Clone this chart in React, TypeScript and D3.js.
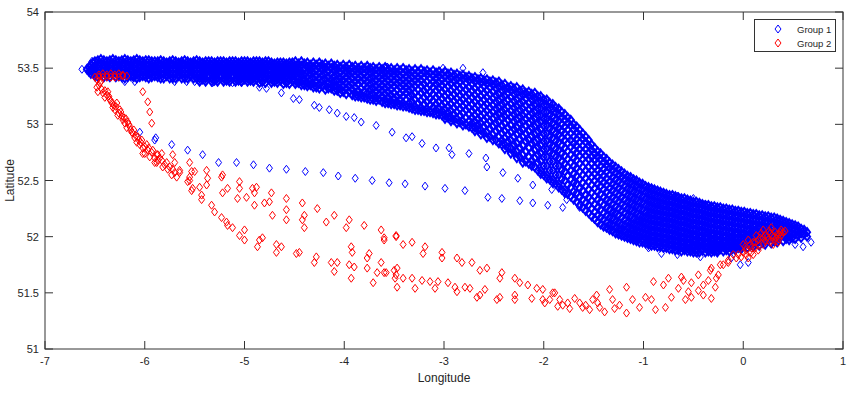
import React from 'react';
import * as d3 from 'd3';

// axis ticks
const lonTicks = [-7, -6, -5, -4, -3, -2, -1, 0, 1];
const latTicks = [51, 51.5, 52, 52.5, 53, 53.5, 54];

const groupNames = ['Group 1', 'Group 2'];
const groupColors = ['#0000ff', '#ff0000'];

// Group 1, main band, read column by column: [lon, ...lats]
const group1Band: number[][] = [
  [-6.58, 53.49],
  [-6.54, 53.53, 53.48, 53.45],
  [-6.5, 53.56, 53.52, 53.47, 53.43],
  [-6.44, 53.58, 53.54, 53.49, 53.45],
  [-6.38, 53.56, 53.52, 53.47, 53.43],
  [-6.32, 53.58, 53.54, 53.49, 53.45],
  [-6.26, 53.56, 53.52, 53.47, 53.43],
  [-6.2, 53.58, 53.54, 53.49, 53.45, 53.41],
  [-6.14, 53.56, 53.52, 53.47, 53.43],
  [-6.08, 53.58, 53.54, 53.49, 53.45, 53.41],
  [-6.02, 53.56, 53.52, 53.47, 53.43],
  [-5.96, 53.57, 53.53, 53.49, 53.45, 53.41],
  [-5.9, 53.56, 53.52, 53.47, 53.43],
  [-5.84, 53.57, 53.53, 53.49, 53.45, 53.41],
  [-5.78, 53.55, 53.51, 53.47, 53.43],
  [-5.72, 53.57, 53.53, 53.49, 53.45, 53.41],
  [-5.66, 53.55, 53.51, 53.47, 53.43],
  [-5.6, 53.57, 53.53, 53.49, 53.45, 53.41],
  [-5.54, 53.55, 53.51, 53.47, 53.43],
  [-5.48, 53.57, 53.53, 53.49, 53.45, 53.41],
  [-5.42, 53.55, 53.51, 53.47, 53.43, 53.4],
  [-5.36, 53.56, 53.52, 53.48, 53.44],
  [-5.3, 53.55, 53.51, 53.47, 53.43, 53.39],
  [-5.24, 53.56, 53.52, 53.48, 53.44],
  [-5.18, 53.55, 53.51, 53.47, 53.43, 53.39],
  [-5.12, 53.56, 53.52, 53.48, 53.44],
  [-5.06, 53.55, 53.51, 53.47, 53.43, 53.39],
  [-5.0, 53.56, 53.52, 53.48, 53.44, 53.4],
  [-4.94, 53.55, 53.51, 53.47, 53.43, 53.39],
  [-4.88, 53.56, 53.52, 53.48, 53.44, 53.4],
  [-4.82, 53.55, 53.51, 53.47, 53.43, 53.38],
  [-4.76, 53.56, 53.52, 53.48, 53.44, 53.4],
  [-4.7, 53.54, 53.5, 53.46, 53.42, 53.38],
  [-4.64, 53.55, 53.51, 53.47, 53.43, 53.39],
  [-4.58, 53.54, 53.5, 53.46, 53.42, 53.37],
  [-4.52, 53.55, 53.51, 53.47, 53.43, 53.39],
  [-4.46, 53.54, 53.5, 53.46, 53.41, 53.37],
  [-4.4, 53.54, 53.49, 53.44, 53.4, 53.35],
  [-4.34, 53.53, 53.49, 53.45, 53.4, 53.35],
  [-4.28, 53.53, 53.48, 53.43, 53.38, 53.33],
  [-4.22, 53.53, 53.49, 53.44, 53.39, 53.34],
  [-4.16, 53.52, 53.47, 53.42, 53.37, 53.32],
  [-4.1, 53.52, 53.48, 53.43, 53.38, 53.34, 53.3],
  [-4.04, 53.51, 53.46, 53.41, 53.37, 53.32, 53.28],
  [-3.98, 53.51, 53.47, 53.42, 53.37, 53.32, 53.27],
  [-3.92, 53.51, 53.46, 53.41, 53.36, 53.31, 53.26],
  [-3.86, 53.5, 53.46, 53.41, 53.36, 53.3, 53.25],
  [-3.8, 53.5, 53.45, 53.4, 53.35, 53.29, 53.24],
  [-3.74, 53.5, 53.46, 53.41, 53.36, 53.31, 53.26, 53.22],
  [-3.68, 53.49, 53.44, 53.39, 53.34, 53.29, 53.24, 53.21],
  [-3.62, 53.49, 53.45, 53.4, 53.35, 53.3, 53.25, 53.2],
  [-3.56, 53.49, 53.44, 53.39, 53.34, 53.29, 53.24, 53.19],
  [-3.5, 53.48, 53.44, 53.39, 53.34, 53.28, 53.23, 53.18],
  [-3.44, 53.48, 53.43, 53.38, 53.33, 53.27, 53.22, 53.17],
  [-3.38, 53.48, 53.43, 53.38, 53.33, 53.28, 53.22, 53.16],
  [-3.32, 53.47, 53.42, 53.37, 53.32, 53.26, 53.2, 53.14],
  [-3.26, 53.47, 53.42, 53.37, 53.31, 53.25, 53.19, 53.13],
  [-3.2, 53.47, 53.42, 53.36, 53.3, 53.24, 53.18, 53.12],
  [-3.14, 53.46, 53.41, 53.35, 53.29, 53.23, 53.17, 53.11],
  [-3.08, 53.46, 53.41, 53.36, 53.3, 53.24, 53.18, 53.13, 53.09],
  [-3.02, 53.45, 53.4, 53.35, 53.29, 53.23, 53.17, 53.12, 53.08],
  [-2.96, 53.45, 53.4, 53.34, 53.28, 53.22, 53.16, 53.11, 53.06],
  [-2.9, 53.44, 53.39, 53.33, 53.27, 53.21, 53.15, 53.09, 53.04],
  [-2.84, 53.43, 53.38, 53.32, 53.26, 53.2, 53.14, 53.08, 53.02],
  [-2.78, 53.42, 53.37, 53.31, 53.25, 53.19, 53.13, 53.06, 53.0],
  [-2.72, 53.41, 53.36, 53.3, 53.24, 53.18, 53.12, 53.06, 53.01, 52.97],
  [-2.66, 53.4, 53.35, 53.29, 53.23, 53.17, 53.11, 53.05, 53.0, 52.95],
  [-2.6, 53.39, 53.34, 53.28, 53.22, 53.16, 53.1, 53.04, 52.98, 52.92],
  [-2.54, 53.38, 53.33, 53.27, 53.21, 53.15, 53.09, 53.03, 52.96, 52.89],
  [-2.48, 53.37, 53.32, 53.26, 53.2, 53.14, 53.08, 53.01, 52.94, 52.86],
  [-2.42, 53.35, 53.3, 53.24, 53.18, 53.12, 53.06, 52.99, 52.92, 52.86, 52.82],
  [-2.36, 53.33, 53.28, 53.22, 53.16, 53.1, 53.04, 52.97, 52.91, 52.85, 52.79],
  [-2.3, 53.32, 53.27, 53.21, 53.15, 53.09, 53.03, 52.96, 52.89, 52.82, 52.75],
  [-2.24, 53.3, 53.25, 53.19, 53.13, 53.07, 53.01, 52.94, 52.87, 52.79, 52.71],
  [-2.18, 53.28, 53.23, 53.17, 53.11, 53.05, 52.99, 52.92, 52.85, 52.76, 52.67],
  [-2.12, 53.27, 53.22, 53.16, 53.1, 53.04, 52.97, 52.9, 52.83, 52.75, 52.68, 52.63],
  [-2.06, 53.25, 53.2, 53.14, 53.08, 53.01, 52.94, 52.87, 52.8, 52.73, 52.66, 52.59],
  [-2.0, 53.22, 53.17, 53.11, 53.05, 52.99, 52.92, 52.85, 52.78, 52.71, 52.63, 52.55],
  [-1.94, 53.19, 53.14, 53.08, 53.02, 52.96, 52.89, 52.82, 52.75, 52.67, 52.59, 52.51],
  [-1.88, 53.15, 53.1, 53.04, 52.98, 52.92, 52.85, 52.78, 52.71, 52.63, 52.55, 52.47],
  [-1.82, 53.11, 53.06, 53.0, 52.94, 52.88, 52.81, 52.74, 52.67, 52.59, 52.51, 52.42],
  [-1.76, 53.06, 53.01, 52.95, 52.89, 52.83, 52.76, 52.69, 52.62, 52.54, 52.46, 52.38],
  [-1.7, 53.0, 52.95, 52.89, 52.83, 52.77, 52.7, 52.63, 52.56, 52.48, 52.4, 52.33],
  [-1.64, 52.95, 52.9, 52.84, 52.78, 52.72, 52.65, 52.58, 52.51, 52.43, 52.35, 52.28],
  [-1.58, 52.89, 52.84, 52.78, 52.72, 52.66, 52.59, 52.52, 52.45, 52.37, 52.3, 52.23],
  [-1.52, 52.82, 52.77, 52.71, 52.65, 52.59, 52.53, 52.46, 52.39, 52.32, 52.25, 52.18],
  [-1.46, 52.76, 52.71, 52.65, 52.59, 52.53, 52.47, 52.4, 52.33, 52.26, 52.19, 52.13],
  [-1.4, 52.71, 52.66, 52.6, 52.54, 52.48, 52.42, 52.35, 52.28, 52.21, 52.15, 52.09],
  [-1.34, 52.66, 52.61, 52.55, 52.49, 52.43, 52.37, 52.31, 52.24, 52.17, 52.11, 52.06],
  [-1.28, 52.62, 52.57, 52.51, 52.45, 52.39, 52.33, 52.27, 52.21, 52.14, 52.08, 52.03],
  [-1.22, 52.58, 52.53, 52.47, 52.41, 52.35, 52.29, 52.23, 52.17, 52.11, 52.06, 52.01],
  [-1.16, 52.54, 52.49, 52.43, 52.37, 52.31, 52.25, 52.19, 52.13, 52.08, 52.03, 51.99],
  [-1.1, 52.51, 52.46, 52.4, 52.34, 52.28, 52.22, 52.16, 52.11, 52.06, 52.01, 51.97],
  [-1.04, 52.48, 52.43, 52.37, 52.31, 52.25, 52.19, 52.14, 52.09, 52.04, 51.99, 51.95],
  [-0.98, 52.45, 52.4, 52.34, 52.28, 52.22, 52.17, 52.12, 52.07, 52.02, 51.98, 51.94],
  [-0.92, 52.43, 52.38, 52.32, 52.26, 52.2, 52.15, 52.1, 52.05, 52.0, 51.96, 51.92],
  [-0.86, 52.41, 52.36, 52.3, 52.24, 52.19, 52.14, 52.09, 52.04, 51.99, 51.95, 51.91],
  [-0.8, 52.39, 52.34, 52.28, 52.23, 52.18, 52.13, 52.08, 52.03, 51.98, 51.94, 51.9],
  [-0.74, 52.37, 52.32, 52.27, 52.22, 52.17, 52.12, 52.07, 52.02, 51.97, 51.93, 51.89],
  [-0.68, 52.36, 52.31, 52.26, 52.21, 52.16, 52.11, 52.06, 52.01, 51.96, 51.92, 51.88],
  [-0.62, 52.34, 52.29, 52.24, 52.19, 52.14, 52.09, 52.04, 51.99, 51.95, 51.91, 51.87],
  [-0.56, 52.33, 52.28, 52.23, 52.18, 52.13, 52.08, 52.03, 51.98, 51.94, 51.9, 51.87],
  [-0.5, 52.31, 52.26, 52.21, 52.16, 52.11, 52.06, 52.01, 51.96, 51.92, 51.89, 51.86],
  [-0.44, 52.3, 52.25, 52.2, 52.15, 52.1, 52.05, 52.0, 51.95, 51.91, 51.86],
  [-0.38, 52.28, 52.24, 52.19, 52.14, 52.09, 52.04, 51.99, 51.94, 51.9, 51.86],
  [-0.32, 52.27, 52.22, 52.17, 52.12, 52.07, 52.02, 51.97, 51.93, 51.89, 51.86],
  [-0.26, 52.26, 52.21, 52.16, 52.11, 52.06, 52.01, 51.96, 51.92, 51.88, 51.86],
  [-0.2, 52.25, 52.2, 52.15, 52.1, 52.05, 52.0, 51.95, 51.91, 51.87],
  [-0.14, 52.24, 52.19, 52.14, 52.09, 52.04, 51.99, 51.95, 51.91, 51.87],
  [-0.08, 52.23, 52.18, 52.13, 52.08, 52.03, 51.98, 51.94, 51.91, 51.88],
  [-0.02, 52.22, 52.17, 52.12, 52.07, 52.02, 51.98, 51.94, 51.91, 51.89],
  [0.04, 52.21, 52.16, 52.11, 52.06, 52.01, 51.97, 51.94, 51.9],
  [0.1, 52.2, 52.15, 52.1, 52.05, 52.01, 51.97, 51.94, 51.91],
  [0.16, 52.19, 52.14, 52.09, 52.04, 52.0, 51.96, 51.92],
  [0.22, 52.18, 52.13, 52.08, 52.04, 52.0, 51.96, 51.93],
  [0.28, 52.17, 52.12, 52.08, 52.03, 51.99, 51.94],
  [0.34, 52.16, 52.11, 52.06, 52.02, 51.98, 51.95],
  [0.4, 52.14, 52.1, 52.05, 52.01, 51.96],
  [0.46, 52.12, 52.08, 52.04, 52.0, 51.97],
  [0.52, 52.1, 52.06, 52.02, 51.98],
  [0.58, 52.07, 52.03, 51.99],
  [0.64, 52.04, 52.0],
];

// Group 1, second pass of band columns, sitting between the ones above
const group1BandFill: number[][] = [
  [-6.56, 53.51, 53.47],
  [-6.52, 53.55, 53.5, 53.46],
  [-6.47, 53.57, 53.53, 53.5, 53.46, 53.42],
  [-6.41, 53.57, 53.53, 53.5, 53.46, 53.42],
  [-6.35, 53.57, 53.53, 53.5, 53.46, 53.42],
  [-6.29, 53.57, 53.53, 53.5, 53.46, 53.42],
  [-6.23, 53.57, 53.53, 53.5, 53.46, 53.42],
  [-6.17, 53.57, 53.53, 53.5, 53.46, 53.42],
  [-6.11, 53.57, 53.53, 53.5, 53.46, 53.42],
  [-6.05, 53.57, 53.53, 53.5, 53.46, 53.42],
  [-5.99, 53.57, 53.53, 53.5, 53.46, 53.42],
  [-5.93, 53.56, 53.53, 53.5, 53.46, 53.42],
  [-5.87, 53.56, 53.53, 53.5, 53.46, 53.42],
  [-5.81, 53.56, 53.53, 53.49, 53.45, 53.41],
  [-5.75, 53.56, 53.53, 53.49, 53.45, 53.41],
  [-5.69, 53.56, 53.53, 53.49, 53.45, 53.41],
  [-5.63, 53.56, 53.53, 53.49, 53.45, 53.41],
  [-5.57, 53.56, 53.53, 53.49, 53.45, 53.41],
  [-5.51, 53.56, 53.53, 53.49, 53.45, 53.41],
  [-5.45, 53.56, 53.53, 53.49, 53.45, 53.41, 53.38],
  [-5.39, 53.56, 53.53, 53.49, 53.45, 53.41, 53.38],
  [-5.33, 53.56, 53.53, 53.49, 53.45, 53.41, 53.38],
  [-5.27, 53.56, 53.53, 53.49, 53.45, 53.41, 53.38],
  [-5.21, 53.56, 53.53, 53.49, 53.45, 53.41, 53.38],
  [-5.15, 53.56, 53.53, 53.49, 53.45, 53.41, 53.38],
  [-5.09, 53.56, 53.53, 53.49, 53.45, 53.41, 53.38],
  [-5.03, 53.56, 53.53, 53.49, 53.45, 53.41, 53.38],
  [-4.97, 53.56, 53.53, 53.49, 53.45, 53.41, 53.38],
  [-4.91, 53.56, 53.53, 53.49, 53.45, 53.41, 53.38],
  [-4.85, 53.56, 53.53, 53.49, 53.45, 53.41, 53.37],
  [-4.79, 53.56, 53.53, 53.49, 53.45, 53.41, 53.37],
  [-4.73, 53.55, 53.52, 53.48, 53.44, 53.4, 53.37],
  [-4.67, 53.55, 53.52, 53.48, 53.44, 53.4, 53.37],
  [-4.61, 53.55, 53.52, 53.48, 53.44, 53.4, 53.36],
  [-4.55, 53.55, 53.52, 53.48, 53.44, 53.4, 53.36],
  [-4.49, 53.56, 53.52, 53.48, 53.44, 53.39, 53.36],
  [-4.43, 53.56, 53.52, 53.47, 53.43, 53.38, 53.35],
  [-4.37, 53.55, 53.51, 53.47, 53.42, 53.37, 53.34],
  [-4.31, 53.55, 53.51, 53.46, 53.41, 53.36, 53.33],
  [-4.25, 53.55, 53.51, 53.46, 53.41, 53.36, 53.32],
  [-4.19, 53.54, 53.5, 53.45, 53.4, 53.35, 53.31],
  [-4.13, 53.54, 53.5, 53.45, 53.4, 53.36, 53.32],
  [-4.07, 53.53, 53.49, 53.44, 53.39, 53.34, 53.3],
  [-4.01, 53.53, 53.49, 53.44, 53.39, 53.34, 53.29],
  [-3.95, 53.53, 53.48, 53.44, 53.39, 53.34, 53.29],
  [-3.89, 53.52, 53.48, 53.43, 53.38, 53.33, 53.28, 53.25],
  [-3.83, 53.52, 53.48, 53.43, 53.38, 53.32, 53.27, 53.24],
  [-3.77, 53.52, 53.48, 53.43, 53.38, 53.33, 53.28, 53.23],
  [-3.71, 53.51, 53.47, 53.42, 53.37, 53.32, 53.27, 53.22],
  [-3.65, 53.51, 53.47, 53.42, 53.37, 53.32, 53.27, 53.22],
  [-3.59, 53.51, 53.46, 53.42, 53.37, 53.32, 53.27, 53.22, 53.19],
  [-3.53, 53.5, 53.46, 53.41, 53.36, 53.31, 53.26, 53.21, 53.18],
  [-3.47, 53.5, 53.46, 53.41, 53.36, 53.31, 53.25, 53.2, 53.17],
  [-3.41, 53.5, 53.45, 53.4, 53.35, 53.3, 53.25, 53.19, 53.16],
  [-3.35, 53.49, 53.45, 53.4, 53.35, 53.3, 53.25, 53.19, 53.15],
  [-3.29, 53.49, 53.44, 53.39, 53.34, 53.28, 53.22, 53.16, 53.13],
  [-3.23, 53.49, 53.44, 53.39, 53.34, 53.28, 53.21, 53.15, 53.12],
  [-3.17, 53.48, 53.44, 53.38, 53.32, 53.26, 53.2, 53.14, 53.11],
  [-3.11, 53.48, 53.43, 53.38, 53.33, 53.27, 53.21, 53.15, 53.1],
  [-3.05, 53.47, 53.43, 53.37, 53.32, 53.26, 53.2, 53.14, 53.09],
  [-2.99, 53.47, 53.42, 53.37, 53.31, 53.25, 53.19, 53.13, 53.08, 53.05],
  [-2.93, 53.46, 53.41, 53.36, 53.3, 53.24, 53.18, 53.12, 53.06, 53.03],
  [-2.87, 53.45, 53.4, 53.35, 53.29, 53.23, 53.17, 53.11, 53.05, 53.01],
  [-2.81, 53.44, 53.4, 53.34, 53.28, 53.22, 53.16, 53.1, 53.03, 52.99],
  [-2.75, 53.43, 53.39, 53.33, 53.27, 53.21, 53.15, 53.09, 53.03, 52.98],
  [-2.69, 53.42, 53.38, 53.32, 53.26, 53.2, 53.14, 53.08, 53.02, 52.97, 52.94],
  [-2.63, 53.41, 53.37, 53.31, 53.25, 53.19, 53.13, 53.07, 53.01, 52.95, 52.91],
  [-2.57, 53.4, 53.36, 53.3, 53.24, 53.18, 53.12, 53.06, 53.0, 52.93, 52.88],
  [-2.51, 53.39, 53.35, 53.29, 53.23, 53.17, 53.11, 53.05, 52.98, 52.91, 52.86],
  [-2.45, 53.38, 53.33, 53.27, 53.21, 53.15, 53.09, 53.02, 52.96, 52.89, 52.83],
  [-2.39, 53.36, 53.31, 53.25, 53.19, 53.13, 53.07, 53.01, 52.94, 52.88, 52.82, 52.78],
  [-2.33, 53.34, 53.3, 53.24, 53.18, 53.12, 53.06, 52.99, 52.93, 52.86, 52.79, 52.74],
  [-2.27, 53.33, 53.28, 53.22, 53.16, 53.1, 53.04, 52.97, 52.91, 52.83, 52.76, 52.7],
  [-2.21, 53.31, 53.26, 53.2, 53.14, 53.08, 53.02, 52.95, 52.89, 52.81, 52.73, 52.66],
  [-2.15, 53.29, 53.25, 53.19, 53.13, 53.07, 53.01, 52.94, 52.86, 52.79, 52.71, 52.65],
  [-2.09, 53.28, 53.23, 53.17, 53.11, 53.05, 52.98, 52.91, 52.84, 52.77, 52.7, 52.62],
  [-2.03, 53.25, 53.2, 53.14, 53.08, 53.02, 52.95, 52.88, 52.81, 52.74, 52.67, 52.59, 52.56],
  [-1.97, 53.22, 53.17, 53.11, 53.05, 52.99, 52.92, 52.85, 52.78, 52.71, 52.63, 52.55, 52.52],
  [-1.91, 53.18, 53.14, 53.07, 53.01, 52.95, 52.88, 52.81, 52.74, 52.67, 52.59, 52.51, 52.48],
  [-1.85, 53.14, 53.09, 53.03, 52.97, 52.91, 52.84, 52.77, 52.7, 52.63, 52.55, 52.47, 52.44],
  [-1.79, 53.09, 53.04, 52.98, 52.92, 52.86, 52.79, 52.72, 52.65, 52.58, 52.5, 52.42, 52.39],
  [-1.73, 53.04, 52.99, 52.92, 52.86, 52.8, 52.73, 52.66, 52.59, 52.51, 52.44, 52.36],
  [-1.67, 52.98, 52.93, 52.87, 52.81, 52.75, 52.68, 52.61, 52.54, 52.47, 52.39, 52.31],
  [-1.61, 52.92, 52.87, 52.81, 52.75, 52.69, 52.62, 52.55, 52.48, 52.41, 52.33, 52.26],
  [-1.55, 52.86, 52.81, 52.75, 52.69, 52.62, 52.56, 52.49, 52.42, 52.35, 52.28, 52.21],
  [-1.49, 52.79, 52.74, 52.68, 52.62, 52.56, 52.5, 52.43, 52.36, 52.29, 52.22, 52.16],
  [-1.43, 52.74, 52.69, 52.63, 52.57, 52.51, 52.45, 52.38, 52.31, 52.24, 52.17, 52.11],
  [-1.37, 52.69, 52.64, 52.58, 52.52, 52.46, 52.4, 52.33, 52.26, 52.19, 52.13, 52.08],
  [-1.31, 52.64, 52.59, 52.53, 52.47, 52.41, 52.35, 52.29, 52.22, 52.16, 52.1, 52.05],
  [-1.25, 52.6, 52.55, 52.49, 52.43, 52.37, 52.31, 52.25, 52.19, 52.13, 52.07, 52.02],
  [-1.19, 52.56, 52.51, 52.45, 52.39, 52.33, 52.27, 52.21, 52.15, 52.1, 52.05, 52.0],
  [-1.13, 52.53, 52.48, 52.42, 52.36, 52.3, 52.24, 52.18, 52.12, 52.07, 52.02, 51.98],
  [-1.07, 52.5, 52.45, 52.39, 52.33, 52.27, 52.21, 52.15, 52.1, 52.05, 52.0, 51.96],
  [-1.01, 52.47, 52.42, 52.36, 52.3, 52.24, 52.18, 52.13, 52.08, 52.03, 51.98, 51.95],
  [-0.95, 52.44, 52.39, 52.33, 52.27, 52.21, 52.16, 52.11, 52.06, 52.01, 51.97, 51.93],
  [-0.89, 52.42, 52.37, 52.31, 52.25, 52.2, 52.15, 52.1, 52.05, 52.0, 51.96, 51.92],
  [-0.83, 52.4, 52.35, 52.29, 52.24, 52.19, 52.14, 52.09, 52.04, 51.99, 51.95, 51.91],
  [-0.77, 52.38, 52.33, 52.28, 52.23, 52.18, 52.13, 52.08, 52.03, 51.98, 51.94, 51.9],
  [-0.71, 52.37, 52.32, 52.27, 52.22, 52.17, 52.12, 52.07, 52.02, 51.97, 51.93, 51.89],
  [-0.65, 52.35, 52.3, 52.25, 52.2, 52.15, 52.1, 52.05, 52.0, 51.96, 51.92, 51.88],
  [-0.59, 52.34, 52.29, 52.24, 52.19, 52.14, 52.09, 52.04, 51.99, 51.95, 51.91, 51.88],
  [-0.53, 52.32, 52.27, 52.22, 52.17, 52.12, 52.07, 52.02, 51.98, 51.94, 51.9, 51.87],
  [-0.47, 52.31, 52.26, 52.21, 52.16, 52.11, 52.06, 52.01, 51.97, 51.93, 51.89, 51.86],
  [-0.41, 52.29, 52.25, 52.2, 52.15, 52.1, 52.05, 52.0, 51.96, 51.92, 51.88],
  [-0.35, 52.28, 52.23, 52.18, 52.13, 52.08, 52.03, 51.99, 51.95, 51.91, 51.87],
  [-0.29, 52.27, 52.22, 52.17, 52.12, 52.07, 52.02, 51.98, 51.94, 51.9, 51.87],
  [-0.23, 52.26, 52.21, 52.16, 52.11, 52.06, 52.01, 51.97, 51.93, 51.89],
  [-0.17, 52.25, 52.2, 52.15, 52.1, 52.05, 52.0, 51.96, 51.92, 51.88],
  [-0.11, 52.24, 52.19, 52.14, 52.09, 52.04, 52.0, 51.96, 51.92, 51.89],
  [-0.05, 52.23, 52.18, 52.13, 52.08, 52.03, 51.99, 51.95, 51.92, 51.9],
  [0.01, 52.22, 52.17, 52.12, 52.07, 52.03, 51.99, 51.95, 51.92],
  [0.07, 52.21, 52.16, 52.11, 52.07, 52.03, 51.99, 51.96, 51.92],
  [0.13, 52.2, 52.15, 52.1, 52.06, 52.02, 51.98, 51.94],
  [0.19, 52.19, 52.14, 52.1, 52.06, 52.02, 51.98, 51.95],
  [0.25, 52.18, 52.13, 52.09, 52.05, 52.01, 51.97],
  [0.31, 52.17, 52.12, 52.08, 52.04, 52.0, 51.96],
  [0.37, 52.15, 52.11, 52.07, 52.03, 51.99],
  [0.43, 52.13, 52.09, 52.05, 52.01, 51.98],
  [0.49, 52.11, 52.07, 52.03, 51.99],
  [0.55, 52.09, 52.05, 52.01],
  [0.61, 52.06, 52.02],
];

// Group 1, loose points around the band
const group1Loose: [number, number][] = [
  [-6.63, 53.49], [-6.53, 53.56],
  [-6.2, 53.38], [-6.1, 53.38], [-6.12, 53.42], [-5.7, 53.38], [-5.58, 53.38], [-5.5, 53.38],
  [-5.32, 53.37], [-5.12, 53.37], [-5.03, 53.37], [-4.85, 53.33], [-4.78, 53.32],
  [-4.63, 53.28], [-4.51, 53.23], [-4.45, 53.22], [-4.3, 53.17], [-4.25, 53.15],
  [-4.15, 53.13], [-4.07, 53.1], [-3.98, 53.07], [-3.9, 53.06], [-3.83, 53.02],
  [-3.68, 52.99], [-3.52, 52.93], [-3.38, 52.88], [-3.32, 52.89], [-3.22, 52.83],
  [-3.08, 52.79], [-2.95, 52.79], [-2.92, 52.73], [-2.75, 52.74], [-2.58, 52.7],
  [-3.77, 53.51], [-3.57, 53.51], [-3.01, 53.5], [-2.81, 53.5], [-2.61, 53.46],
  [-2.47, 53.37], [-2.36, 53.32], [-2.21, 53.29], [-2.11, 53.2], [-1.94, 53.04],
  [-1.82, 52.93], [-1.72, 52.84], [-1.64, 52.77], [-1.49, 52.7], [-1.36, 52.62],
  [-1.24, 52.55], [-1.12, 52.49], [-0.66, 52.36], [-0.5, 52.34], [-0.38, 52.29],
  [-0.28, 52.23], [0.35, 52.14], [0.45, 52.1],
  [-2.57, 52.62], [-2.41, 52.57], [-2.26, 52.52], [-2.11, 52.46], [-1.92, 52.42],
  [-1.77, 52.33], [-1.64, 52.26], [-1.49, 52.15], [-1.34, 52.09],
  [-0.95, 51.9], [-0.82, 51.85], [-0.66, 51.84], [-0.43, 51.82],
  [0.58, 52.03], [0.68, 51.95], [0.6, 51.91], [0.52, 51.93],
  [-0.03, 51.75], [-0.12, 51.81], [0.05, 51.77],
  [-6.05, 52.93], [-5.9, 52.86], [-5.89, 52.88], [-5.73, 52.82], [-5.57, 52.77],
  [-5.42, 52.73], [-5.26, 52.66], [-5.08, 52.66], [-4.91, 52.64], [-4.75, 52.61],
  [-4.58, 52.6], [-4.39, 52.58], [-4.21, 52.57], [-4.06, 52.54], [-3.89, 52.52],
  [-3.72, 52.5], [-3.55, 52.48], [-3.39, 52.47], [-3.19, 52.45], [-2.99, 52.43],
  [-2.79, 52.41], [-2.56, 52.35], [-2.42, 52.34], [-2.24, 52.32], [-2.11, 52.3],
  [-1.96, 52.28], [-1.81, 52.26],
];

// Group 2, pile at the start of the track: [lon, ...lats]
const group2Start: number[][] = [
  [-6.5, 53.42], [-6.46, 53.44, 53.42], [-6.42, 53.45, 53.42], [-6.38, 53.44, 53.42],
  [-6.34, 53.45, 53.42], [-6.3, 53.44, 53.42], [-6.26, 53.45, 53.42],
  [-6.22, 53.44, 53.43], [-6.18, 53.43],
];

// Group 2, track points
const group2Track: [number, number][] = [
  [-6.48, 53.4], [-6.44, 53.38], [-6.48, 53.33], [-6.45, 53.37], [-6.47, 53.29],
  [-6.42, 53.28], [-6.4, 53.24], [-6.37, 53.29], [-6.35, 53.22], [-6.33, 53.19],
  [-6.32, 53.15], [-6.28, 53.19], [-6.3, 53.13], [-6.25, 53.13], [-6.27, 53.08],
  [-6.23, 53.07], [-6.22, 53.04], [-6.2, 53.01], [-6.17, 53.02], [-6.18, 52.97],
  [-6.15, 52.98], [-6.13, 52.93], [-6.12, 52.92], [-6.1, 52.88], [-6.07, 52.89],
  [-6.08, 52.84], [-6.03, 52.86], [-6.05, 52.82], [-6.02, 52.79], [-5.98, 52.82],
  [-5.97, 52.77], [-6.0, 52.74], [-5.93, 52.75], [-5.95, 52.71], [-5.88, 52.73],
  [-5.87, 52.68], [-5.9, 52.66], [-5.83, 52.68], [-5.78, 52.66], [-5.82, 52.62],
  [-5.75, 52.62], [-5.7, 52.57], [-5.68, 52.53], [-5.73, 52.55], [-5.65, 52.59],
  [-5.55, 52.53], [-5.57, 52.49], [-5.5, 52.58], [-5.45, 52.44], [-5.52, 52.43],
  [-6.46, 53.35], [-6.43, 53.31], [-6.4, 53.3], [-6.38, 53.26], [-6.36, 53.25],
  [-6.34, 53.21], [-6.31, 53.17], [-6.29, 53.16], [-6.26, 53.1], [-6.24, 53.11],
  [-6.21, 53.06], [-6.19, 53.05], [-6.16, 53.0], [-6.14, 52.95], [-6.11, 52.95],
  [-6.09, 52.9], [-6.06, 52.86], [-6.04, 52.84], [-6.0, 52.8], [-5.96, 52.79],
  [-5.92, 52.77], [-5.9, 52.7], [-5.85, 52.7], [-5.8, 52.64], [-5.77, 52.6], [-5.72, 52.6],
  [-6.02, 53.29], [-5.97, 53.2], [-5.95, 53.11], [-5.93, 53.01],
  [-6.02, 52.74], [-5.88, 52.66], [-5.87, 52.73], [-5.83, 52.74], [-5.72, 52.73],
  [-5.7, 52.66], [-5.65, 52.57], [-5.55, 52.66], [-5.53, 52.58], [-5.55, 52.5],
  [-5.53, 52.41], [-5.38, 52.59], [-5.37, 52.52], [-5.38, 52.46], [-5.23, 52.53],
  [-5.22, 52.55], [-5.17, 52.43], [-5.22, 52.39], [-5.43, 52.37], [-5.43, 52.33],
  [-5.33, 52.28], [-5.3, 52.22], [-5.23, 52.17], [-5.18, 52.13], [-5.17, 52.1],
  [-5.12, 52.08], [-5.05, 52.49], [-5.05, 52.43], [-5.07, 52.34], [-4.98, 52.35],
  [-4.9, 52.39], [-4.92, 52.43], [-4.88, 52.44], [-4.9, 52.28], [-4.8, 52.3],
  [-4.75, 52.31], [-4.73, 52.39], [-4.72, 52.19], [-4.58, 52.34], [-4.58, 52.24],
  [-4.58, 52.15], [-4.42, 52.3], [-4.42, 52.15], [-4.4, 52.19], [-4.4, 52.08],
  [-4.27, 52.25], [-4.18, 52.13], [-4.1, 52.19], [-3.95, 52.15], [-3.98, 52.08],
  [-3.8, 52.1], [-3.63, 52.06], [-3.48, 52.0], [-5.0, 52.06], [-5.05, 52.01],
  [-5.0, 51.97], [-4.85, 51.97], [-4.82, 51.99], [-4.87, 51.91], [-4.68, 51.93],
  [-4.63, 51.91], [-4.68, 51.86], [-4.48, 51.85], [-4.45, 51.86], [-4.28, 51.82],
  [-4.3, 51.77], [-4.13, 51.77], [-4.07, 51.77], [-4.1, 51.69], [-3.93, 51.91],
  [-3.92, 51.86], [-3.95, 51.75], [-3.9, 51.73], [-3.93, 51.63], [-3.75, 51.85],
  [-3.77, 51.81], [-3.77, 51.72], [-3.63, 51.77], [-3.6, 51.68], [-3.67, 51.68],
  [-3.71, 51.59], [-3.47, 51.72], [-3.49, 51.63], [-3.47, 51.55], [-3.6, 51.97],
  [-3.6, 51.99], [-3.48, 52.01], [-3.41, 51.93], [-3.32, 51.95], [-3.19, 51.91],
  [-3.21, 51.85], [-3.02, 51.86], [-3.02, 51.81], [-2.87, 51.81], [-2.82, 51.77],
  [-2.72, 51.77], [-2.64, 51.7], [-2.57, 51.72], [-2.42, 51.68], [-2.44, 51.63],
  [-2.29, 51.63], [-2.24, 51.59], [-2.16, 51.57], [-2.07, 51.54], [-2.01, 51.53],
  [-1.89, 51.5], [-3.58, 51.68], [-3.5, 51.7], [-3.48, 51.66], [-3.41, 51.63],
  [-3.32, 51.63], [-3.29, 51.54], [-3.22, 51.61], [-3.14, 51.6], [-3.09, 51.54],
  [-3.06, 51.6], [-2.96, 51.59], [-2.89, 51.55], [-2.87, 51.51], [-2.79, 51.55],
  [-2.74, 51.54], [-2.67, 51.46], [-2.64, 51.48], [-2.59, 51.53], [-2.47, 51.44],
  [-2.44, 51.46], [-2.29, 51.48], [-2.29, 51.44], [-2.12, 51.45], [-2.01, 51.44],
  [-1.94, 51.44], [-1.91, 51.5], [-1.81, 51.39], [-1.76, 51.41], [-1.64, 51.41],
  [-1.61, 51.37], [-1.51, 51.44], [-1.47, 51.48], [-1.44, 51.37], [-1.34, 51.53],
  [-1.31, 51.44], [-1.29, 51.36], [-1.17, 51.55], [-1.17, 51.32], [-1.11, 51.44],
  [-1.04, 51.37], [-0.98, 51.46], [-0.92, 51.44], [-0.9, 51.6], [-0.88, 51.35],
  [-0.78, 51.37], [-0.75, 51.63], [-0.72, 51.46], [-0.65, 51.54], [-0.62, 51.64],
  [-0.58, 51.44], [-0.52, 51.46], [-0.52, 51.59], [-0.45, 51.52], [-0.4, 51.48],
  [-0.35, 51.61], [-0.32, 51.72], [-0.28, 51.55], [-0.32, 51.45],
  [-1.74, 51.36], [-1.54, 51.35], [-1.39, 51.33], [-1.24, 51.39], [-1.84, 51.44],
  [-1.69, 51.45], [-1.99, 51.41], [-1.86, 51.38], [-1.58, 51.39], [-1.46, 51.41],
  [-0.8, 51.57], [-0.6, 51.61], [-0.45, 51.66], [-0.33, 51.7], [-0.23, 51.75],
  [-0.15, 51.77], [-0.55, 51.51], [-0.4, 51.57], [-0.27, 51.63], [-0.25, 51.66],
  [-0.2, 51.75], [-0.15, 51.79], [-0.1, 51.84], [-0.07, 51.81],
  [-0.05, 51.84], [0.0, 51.86], [0.02, 51.91], [0.07, 51.93], [0.12, 51.95],
  [0.17, 51.99], [0.22, 52.01], [0.27, 52.03], [0.32, 52.04], [0.38, 52.06],
  [0.4, 52.04], [0.38, 52.01], [0.35, 51.95], [0.3, 51.93], [0.25, 51.97],
  [0.2, 51.93], [0.15, 51.88], [0.1, 51.84], [0.05, 51.81], [0.33, 51.99],
  [0.28, 52.08], [0.2, 52.06], [0.13, 52.01], [0.05, 51.97], [0.0, 51.93],
  [0.36, 52.02], [0.31, 52.0], [0.26, 52.05], [0.18, 52.03],
  [0.03, 51.88], [0.08, 51.9], [0.1, 51.95], [0.15, 51.97], [0.2, 51.99],
  [0.24, 52.0], [0.29, 52.01], [0.34, 52.02], [0.37, 52.04], [0.42, 52.05],
  [0.36, 51.98], [0.32, 51.96], [0.27, 51.95], [0.22, 51.96], [0.16, 51.92],
  [0.12, 51.9], [0.08, 51.86], [-0.02, 51.82], [0.03, 51.84],
];

const columnsToPoints = (cols: number[][]) =>
  cols.flatMap(([lon, ...lats]) => lats.map((lat) => [lon, lat] as [number, number]));

const group1Dense = [...columnsToPoints(group1Band), ...columnsToPoints(group1BandFill)];
const group2 = [...columnsToPoints(group2Start), ...group2Track];

const width = 850;
const height = 394;
const left = 45;
const right = 843;
const top = 12;
const bottom = 349;
const tickLen = 8;
const font = '"Liberation Sans", Arial, Helvetica, sans-serif';
const axisColor = '#333333';

// MATLAB-ish 'd' marker
const diamond = 'M0,-4L3,0L0,4L-3,0Z';

const App = () => {
  const x = d3.scaleLinear().domain([-7, 1]).range([left, right]);
  const y = d3.scaleLinear().domain([51, 54]).range([bottom, top]);

  // the heavily overlapped band reads as solid in the original, so it gets a heavier stroke
  const layers: { key: string; pts: [number, number][]; color: string; sw: number }[] = [
    { key: 'g1dense', pts: group1Dense, color: groupColors[0], sw: 2 },
    { key: 'g1loose', pts: group1Loose, color: groupColors[0], sw: 1 },
    { key: 'g2', pts: group2, color: groupColors[1], sw: 1 },
  ];

  return (
    <div style={{ position: 'absolute', left: 0, top: 0 }}>
      <svg width={width} height={height} style={{ display: 'block', background: '#fff' }}>
        <rect x={0} y={0} width={width} height={height} fill="#fff" />

        {layers.map((layer) => (
          <g key={layer.key} fill="none" stroke={layer.color} strokeWidth={layer.sw}>
            {layer.pts.map(([lon, lat], i) => (
              <path key={i} d={diamond} transform={`translate(${x(lon)},${y(lat)})`} />
            ))}
          </g>
        ))}

        {/* box + ticks */}
        <rect x={left} y={top} width={right - left} height={bottom - top} fill="none" stroke={axisColor} strokeWidth={1} />
        {lonTicks.map((t) => (
          <g key={'x' + t} stroke={axisColor}>
            <line x1={x(t)} x2={x(t)} y1={bottom} y2={bottom - tickLen} />
            <line x1={x(t)} x2={x(t)} y1={top} y2={top + tickLen} />
          </g>
        ))}
        {latTicks.map((t) => (
          <g key={'y' + t} stroke={axisColor}>
            <line x1={left} x2={left + tickLen} y1={y(t)} y2={y(t)} />
            <line x1={right} x2={right - tickLen} y1={y(t)} y2={y(t)} />
          </g>
        ))}
        {lonTicks.map((t) => (
          <text key={'xl' + t} x={x(t)} y={bottom + 16} textAnchor="middle" fontFamily={font} fontSize={11} fill="#262626">
            {String(t)}
          </text>
        ))}
        {latTicks.map((t) => (
          <text key={'yl' + t} x={left - 6} y={y(t) + 4} textAnchor="end" fontFamily={font} fontSize={11} fill="#262626">
            {String(t)}
          </text>
        ))}

        <text x={(left + right) / 2} y={382} textAnchor="middle" fontFamily={font} fontSize={12} fill="#262626">
          Longitude
        </text>
        <text transform={`translate(14,${(top + bottom) / 2}) rotate(-90)`} textAnchor="middle" fontFamily={font} fontSize={12} fill="#262626">
          Latitude
        </text>

        {/* legend */}
        <rect x={754.5} y={19.5} width={81} height={32} fill="#fff" stroke={axisColor} strokeWidth={1} />
        {groupNames.map((name, i) => (
          <g key={name}>
            <path d={diamond} transform={`translate(778,${29 + i * 14})`} fill="none" stroke={groupColors[i]} />
            <text x={797} y={29 + i * 14 + 3.5} fontFamily={font} fontSize={9.5} fill="#262626">
              {name}
            </text>
          </g>
        ))}
      </svg>
    </div>
  );
};

export default App;
